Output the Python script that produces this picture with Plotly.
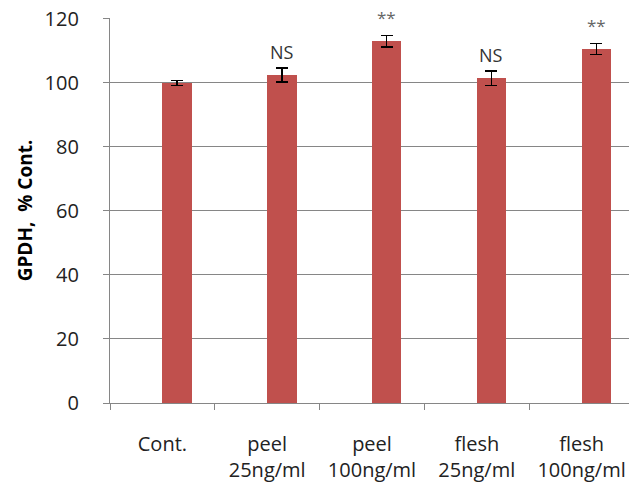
import plotly.graph_objects as go

categories = ["Cont.", "peel<br>25ng/ml", "peel<br>100ng/ml", "flesh<br>25ng/ml", "flesh<br>100ng/ml"]
values = [100.0, 102.4, 113.0, 101.4, 110.6]
errors = [0.8, 2.2, 1.8, 2.3, 1.7]
marks = ["", "NS", "**", "NS", "**"]
y_ticks = [0, 20, 40, 60, 80, 100, 120]

BAR_W = 0.28
FONT = "Open Sans, Lato, sans-serif"

fig = go.Figure()
fig.add_trace(go.Bar(
    x=categories, y=values,
    offset=0, width=BAR_W,
    marker=dict(color="#C0504D", line=dict(width=0)),
    error_y=dict(type="data", array=errors, visible=True,
                 color="#000000", thickness=1.5, width=6),
    showlegend=False,
))

for i, (v, e, m) in enumerate(zip(values, errors, marks)):
    if not m:
        continue
    fig.add_annotation(
        x=i + BAR_W / 2, y=v + e, xref="x", yref="y",
        text=m, showarrow=False, yanchor="bottom",
        yshift=2 if m == "NS" else 4,
        font=dict(family=FONT, size=18 if m == "NS" else 17,
                  color="#333333" if m == "NS" else "#666666"),
    )

fig.update_layout(
    width=629, height=475,
    margin=dict(l=102, r=3, t=10, b=80),
    paper_bgcolor="white", plot_bgcolor="white",
    font=dict(family=FONT, size=20, color="#333333"),
    bargap=0,
)
fig.update_xaxes(
    type="category", tickson="boundaries", automargin=False,
    showline=True, linecolor="#868686", linewidth=1.3,
    ticks="outside", ticklen=6, tickcolor="#868686",
    showgrid=False, tickfont=dict(size=20, color="#222222"),
    ticklabelstandoff=23, ticklabeloverflow="allow",
)
fig.update_yaxes(
    range=[0, 120.25], tickvals=y_ticks, automargin=False,
    showline=True, linecolor="#868686", linewidth=1.3,
    ticks="outside", ticklen=6, tickcolor="#868686",
    showgrid=True, gridcolor="#868686", gridwidth=1,
    zeroline=False, ticklabelstandoff=20, ticklabeloverflow="allow",
    tickfont=dict(size=20, color="#222222"),
    title=dict(text="<b>GPDH,  % Cont.</b>", font=dict(size=19, color="#000000"), standoff=6),
)

fig.write_html("out.html")
